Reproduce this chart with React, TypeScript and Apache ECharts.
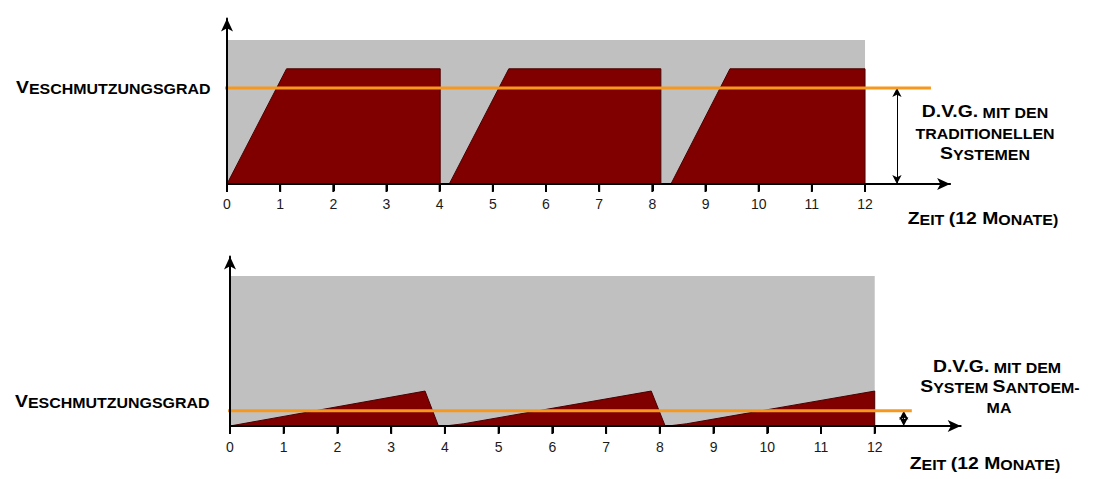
import React, { useEffect, useRef } from "react";
import * as echarts from "echarts";

// ---------- data ----------
const tickValues = [0, 1, 2, 3, 4, 5, 6, 7, 8, 9, 10, 11, 12];

// top chart: traditional systems (degree of contamination, 0-100 scale)
const topBackground = [[0, 100], [12, 100]];
const topCycle1 = [[0, 0], [1.12, 80], [4.01, 80], [4.01, 0]];
const topCycle2 = [[4.18, 0], [5.3, 80], [8.16, 80], [8.16, 0]];
const topCycle3 = [[8.35, 0], [9.46, 80], [12, 80], [12, 0]];
const topLevel = [[-0.1, 66.7], [13.24, 66.7]];
const topArrow = [[12.6, 0], [12.6, 66.7]];

// bottom chart: Santoemma system
const botBackground = [[0, 100], [12, 100]];
const botCycle1 = [[0, 0], [3.63, 23.3], [3.88, 0]];
const botCycle2 = [[4.0, 0], [4.35, 1.5], [7.84, 23.3], [8.1, 0]];
const botCycle3 = [[8.15, 0], [8.5, 1.5], [12, 23.3], [12, 0]];
const botLevel = [[-0.11, 10.2], [12.69, 10.2]];
const botArrow = [[12.54, 0], [12.54, 10.2]];

const GRAY = "#c0c0c0";
const RED = "#800000";
const ORANGE = "#f7981e";
const FONT = "'Liberation Sans', Arial, sans-serif";

const rich = {
  b: { fontSize: 17, fontWeight: "bold", fontFamily: FONT, fill: "#000", verticalAlign: "bottom" },
  s: { fontSize: 14, fontWeight: "bold", fontFamily: FONT, fill: "#000", verticalAlign: "bottom" },
};

function label(text: string, x: number, y: number, align: string) {
  return {
    type: "text",
    x,
    y,
    scaleX: 1.14,
    z: 100,
    style: {
      text,
      rich,
      textAlign: align,
      textVerticalAlign: "bottom",
    },
  };
}

function area(data: number[][], idx: number, color: string, lineColor: string, lw: number) {
  return {
    type: "line",
    xAxisIndex: idx,
    yAxisIndex: idx,
    data,
    symbol: "none",
    silent: true,
    lineStyle: { color: lineColor, width: lw },
    areaStyle: { color, opacity: 1 },
    z: 2,
  };
}

function levelLine(data: number[][], arrow: number[][], idx: number) {
  return {
    type: "line",
    xAxisIndex: idx,
    yAxisIndex: idx,
    data,
    clip: false,
    symbol: "none",
    silent: true,
    lineStyle: { color: ORANGE, width: 3 },
    z: 5,
    markLine: {
      silent: true,
      symbol: ["arrow", "arrow"],
      symbolSize: [7, 9],
      label: { show: false },
      lineStyle: { color: "#000", width: 1, type: "solid" },
      data: [[{ coord: arrow[0] }, { coord: arrow[1] }]],
    },
  };
}

// tick marks under the time axis: short vertical bars placed through the axis scale
function tickMarks(idx: number) {
  return {
    type: "custom",
    xAxisIndex: idx,
    yAxisIndex: idx,
    data: tickValues.map((v) => [v, 0]),
    clip: false,
    silent: true,
    z: 50,
    renderItem: (params: any, api: any) => {
      const p = api.coord([api.value(0), api.value(1)]);
      return {
        type: "rect",
        shape: { x: p[0] - 1, y: p[1] - 1, width: 2, height: 9 },
        style: { fill: "#000" },
        z2: 100,
      };
    },
  };
}

function xAxis(idx: number, margin: number) {
  return {
    type: "value",
    gridIndex: idx,
    min: 0,
    max: 13.6,
    z: 10,
    axisLine: {
      show: true,
      lineStyle: { color: "#000", width: 2 },
      symbol: ["none", "arrow"],
      symbolSize: [9, 13],
    },
    axisTick: {
      show: true,
      inside: false,
      length: 7,
      customValues: tickValues,
      lineStyle: { color: "#000", width: 2 },
    },
    axisLabel: {
      show: true,
      customValues: tickValues,
      margin,
      fontSize: 14,
      fontFamily: FONT,
      color: "#1a1a1a",
      backgroundColor: "transparent",
    },
    splitLine: { show: false },
  };
}

function yAxis(idx: number, max: number) {
  return {
    type: "value",
    gridIndex: idx,
    min: 0,
    max,
    z: 10,
    axisLine: {
      show: true,
      lineStyle: { color: "#000", width: 2 },
      symbol: ["none", "arrow"],
      symbolSize: [9, 13],
    },
    axisTick: { show: false },
    axisLabel: { show: false },
    splitLine: { show: false },
  };
}

export default function App() {
  const ref = useRef<HTMLDivElement>(null);
  useEffect(() => {
    if (!ref.current) return;
    const chart = echarts.init(ref.current, null, { renderer: "svg" });
    chart.setOption({
      animation: false,
      backgroundColor: "#fff",
      grid: [
        { left: 227, right: 152.9, top: 18.4, bottom: 295, outerBoundsMode: "none" },
        { left: 230, right: 142.3, top: 256.5, bottom: 53, outerBoundsMode: "none" },
      ],
      xAxis: [xAxis(0, 13), xAxis(1, 14)],
      yAxis: [yAxis(0, 115), yAxis(1, 113)],
      series: [
        area(topBackground, 0, GRAY, GRAY, 0),
        area(topCycle1, 0, RED, "#4a0000", 1),
        area(topCycle2, 0, RED, "#4a0000", 1),
        area(topCycle3, 0, RED, "#4a0000", 1),
        levelLine(topLevel, topArrow, 0),
        tickMarks(0),
        area(botBackground, 1, GRAY, GRAY, 0),
        area(botCycle1, 1, RED, "#4a0000", 1),
        area(botCycle2, 1, RED, "#4a0000", 1),
        area(botCycle3, 1, RED, "#4a0000", 1),
        levelLine(botLevel, botArrow, 1),
        tickMarks(1),
      ],
      graphic: [
        label("{b|V}{s|ESCHMUTZUNGSGRAD}", 16, 96, "left"),
        label("{b|D.V.G.}{s| MIT DEN}", 985, 120, "center"),
        label("{s|TRADITIONELLEN}", 985, 141, "center"),
        label("{b|S}{s|YSTEMEN}", 985, 162, "center"),
        label("{b|Z}{s|EIT }{b|(12 M}{s|ONATE)}", 983, 227, "center"),
        label("{b|V}{s|ESCHMUTZUNGSGRAD}", 15, 410, "left"),
        label("{b|D.V.G.}{s| MIT DEM}", 997, 375, "center"),
        label("{b|S}{s|YSTEM }{b|S}{s|ANTOEM-}", 1000, 395, "center"),
        label("{s|MA}", 999, 415, "center"),
        label("{b|Z}{s|EIT }{b|(12 M}{s|ONATE)}", 985, 472, "center"),
      ],
    });
    return () => chart.dispose();
  }, []);
  return (
    <div
      ref={ref}
      style={{ position: "fixed", left: 0, top: 0, width: 1103, height: 479 }}
    />
  );
}
